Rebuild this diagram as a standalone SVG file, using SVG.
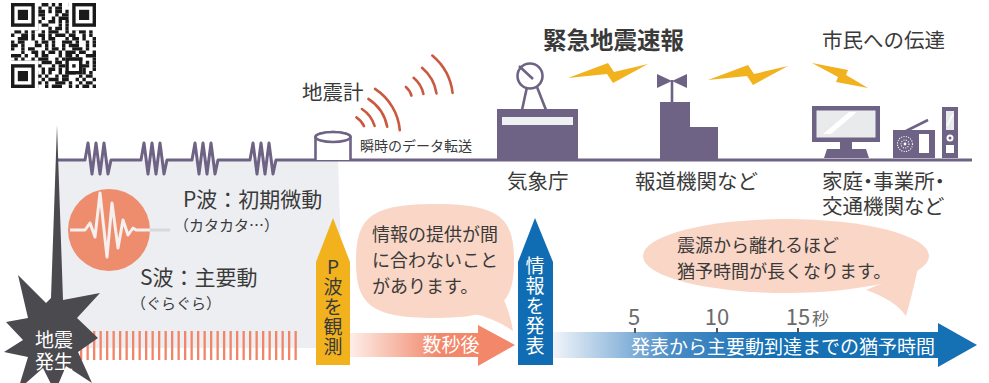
<svg xmlns="http://www.w3.org/2000/svg" width="989" height="383" viewBox="0 0 989 383">
<defs>
<style>
text{font-family:"Noto Sans CJK JP","Noto Sans CJK SC",sans-serif;fill:#3a3a3a}
.lbl{font-size:20.5px}
.sm{font-size:15px}
.bb{font-size:18px}
.w{fill:#fff}
.pu{fill:#6e6384}
.pst{fill:none;stroke:#6e6384;stroke-width:2.6}
.ln{fill:none;stroke:#6e6384;stroke-width:3;stroke-linejoin:round}
.arc{fill:none;stroke:#c9593f;stroke-width:2.6;stroke-linecap:round}
.bolt{fill:#f1b21d}
.vt{font-size:19px;writing-mode:vertical-rl;text-orientation:upright;letter-spacing:1px}
.num{font-size:22px;text-anchor:middle;fill:#6b6b6b}
.qr line{stroke:#1a1a1a;stroke-width:3.4}
.qa{stroke-dasharray:3.4 3.4 6.8 3.4 3.4 10.2 6.8 3.4 3.4}
.qb{stroke-dasharray:6.8 3.4 3.4 6.8 10.2 3.4 3.4}
.qc{stroke-dasharray:3.4 6.8 3.4 3.4 3.4 10.2 3.4 6.8 6.8 3.4 3.4}
.qd{stroke-dasharray:10.2 3.4 3.4 6.8 3.4 3.4 6.8}
.bub{fill:#fad6c6}
.palt{font-feature-settings:"palt"}
</style>
<linearGradient id="gRed" gradientUnits="userSpaceOnUse" x1="350" y1="0" x2="440" y2="0">
<stop offset="0" stop-color="#fdeee8"/><stop offset="1" stop-color="#f2876a"/>
</linearGradient>
<linearGradient id="gBlue" gradientUnits="userSpaceOnUse" x1="553" y1="0" x2="770" y2="0">
<stop offset="0" stop-color="#f1f5fa"/><stop offset="0.55" stop-color="#4a8cc6"/><stop offset="1" stop-color="#1670b4"/>
</linearGradient>
<g id="fp">
<rect x="-3.4" y="-3.4" width="30.6" height="30.6" fill="#fff"/>
<rect width="23.8" height="23.8" fill="#1a1a1a"/>
<rect x="3.4" y="3.4" width="17" height="17" fill="#fff"/>
<rect x="6.8" y="6.8" width="10.2" height="10.2" fill="#1a1a1a"/>
</g>
<path id="bolt" d="M0,0 L40,-15 L46,-6 L80,-14 L45,5 L39,-4 Z"/>
</defs>

<rect width="989" height="383" fill="#fff"/>

<!-- QR code -->
<g id="qr" class="qr">
<line class="qa" x1="11" x2="96" y1="4.7" y2="4.7"/>
<line class="qb" x1="11" x2="96" y1="8.1" y2="8.1" stroke-dashoffset="6.8"/>
<line class="qc" x1="11" x2="96" y1="11.5" y2="11.5" stroke-dashoffset="13.6"/>
<line class="qd" x1="11" x2="96" y1="14.9" y2="14.9" stroke-dashoffset="3.4"/>
<line class="qa" x1="11" x2="96" y1="18.3" y2="18.3" stroke-dashoffset="17"/>
<line class="qc" x1="11" x2="96" y1="21.7" y2="21.7" stroke-dashoffset="3.4"/>
<line class="qb" x1="11" x2="96" y1="25.1" y2="25.1" stroke-dashoffset="20.4"/>
<line class="qd" x1="11" x2="96" y1="28.5" y2="28.5" stroke-dashoffset="10.2"/>
<line class="qa" x1="11" x2="96" y1="31.9" y2="31.9" stroke-dashoffset="27.2"/>
<line class="qc" x1="11" x2="96" y1="35.3" y2="35.3" stroke-dashoffset="30.6"/>
<line class="qb" x1="11" x2="96" y1="38.7" y2="38.7" stroke-dashoffset="13.6"/>
<line class="qd" x1="11" x2="96" y1="42.1" y2="42.1" stroke-dashoffset="23.8"/>
<line class="qa" x1="11" x2="96" y1="45.5" y2="45.5" stroke-dashoffset="6.8"/>
<line class="qb" x1="11" x2="96" y1="48.9" y2="48.9" stroke-dashoffset="34"/>
<line class="qc" x1="11" x2="96" y1="52.3" y2="52.3" stroke-dashoffset="20.4"/>
<line class="qd" x1="11" x2="96" y1="55.7" y2="55.7"/>
<line class="qa" x1="11" x2="96" y1="59.1" y2="59.1" stroke-dashoffset="37.4"/>
<line class="qc" x1="11" x2="96" y1="62.5" y2="62.5" stroke-dashoffset="44.2"/>
<line class="qb" x1="11" x2="96" y1="65.9" y2="65.9" stroke-dashoffset="27.2"/>
<line class="qd" x1="11" x2="96" y1="69.3" y2="69.3" stroke-dashoffset="17"/>
<line class="qa" x1="11" x2="96" y1="72.7" y2="72.7" stroke-dashoffset="10.2"/>
<line class="qb" x1="11" x2="96" y1="76.1" y2="76.1"/>
<line class="qc" x1="11" x2="96" y1="79.5" y2="79.5" stroke-dashoffset="37.4"/>
<line class="qd" x1="11" x2="96" y1="82.9" y2="82.9" stroke-dashoffset="30.6"/>
<line class="qa" x1="11" x2="96" y1="86.3" y2="86.3" stroke-dashoffset="23.8"/>
<use href="#fp" x="11" y="3"/>
<use href="#fp" x="72.2" y="3"/>
<use href="#fp" x="11" y="64.2"/>
<rect x="65.4" y="57.4" width="17" height="17" fill="#1a1a1a"/>
<rect x="68.8" y="60.8" width="10.2" height="10.2" fill="#fff"/>
<rect x="72.2" y="64.2" width="3.4" height="3.4" fill="#1a1a1a"/>
</g>

<!-- P-wave / S-wave zone -->
<polygon id="zone" points="58,160 338,160 344,348 58,348" fill="#eceef1"/>

<!-- ground line with tremor marks -->
<path id="ground" class="ln" d="M58,160 H85 l3,-17 l4,31 l4,-31 l4,31 l4,-31 l4,31 l3,-14 H141 l3,-17 l4,31 l4,-31 l4,31 l4,-31 l4,31 l3,-14 H192 l3,-17 l4,31 l4,-31 l4,31 l4,-31 l4,31 l3,-14 H250 l3,-17 l4,31 l4,-31 l4,31 l4,-31 l4,31 l3,-14 H972"/>

<!-- shaking stripes -->
<line x1="80" y1="345.5" x2="298" y2="345.5" stroke="#f28467" stroke-width="29" stroke-dasharray="2.3 4.2"/>

<!-- epicentre burst -->
<g id="quake">
<polygon points="57,125 63,300 100,293 77,318 98,338 78,352 92,383 66,366 55,392 43,368 18,390 28,357 4,352 23,340 6,322 28,318 18,275 46,303 51,298" fill="#4a4a4f"/>
<text class="w" style="font-size:19px" text-anchor="middle"><tspan x="54" y="347">地震</tspan><tspan x="54" y="369">発生</tspan></text>
</g>

<!-- seismograph badge -->
<g id="waves">
<line x1="140" y1="230" x2="170" y2="230" stroke="#d7d8dc" stroke-width="3"/>
<circle cx="109" cy="230" r="41" fill="#ee8c6e"/>
<path d="M70,230 H85 L90,223 L95,237 L100,193 L107,257 L112,203 L118,248 L123,220 L128,235 L133,228 L136,230 H150" fill="none" stroke="#f5efed" stroke-width="3" stroke-linejoin="round"/>
<text x="183" y="206.5" style="font-size:21px">P波：初期微動</text>
<text class="sm" x="174" y="231">（カタカタ…）</text>
<text x="140" y="284.5" style="font-size:21px">S波：主要動</text>
<text class="sm" x="131" y="308.5">（ぐらぐら）</text>
</g>

<!-- seismometer -->
<g id="seismometer">
<path d="M315.5,160 V137 A17.5,5 0 0 1 350.5,137 V160" fill="#fff" stroke="#6e6384" stroke-width="2.6"/>
<ellipse cx="333" cy="137" rx="17.5" ry="5" fill="#fff" stroke="#6e6384" stroke-width="2.6"/>
<text class="lbl" x="302" y="100">地震計</text>
<text x="360" y="151" style="font-size:14px">瞬時のデータ転送</text>
<path class="arc" d="M356.4,117.4 A21,21 0 0 1 364,126.1 M361.9,109 A31,31 0 0 1 374.6,125.9 M368.4,98.9 A43,43 0 0 1 387.2,126.8 M375,88.9 A55,55 0 0 1 399.8,130.2"/>
<path class="arc" d="M405.9,87 A17,17 0 0 1 411.4,95.6 M413.6,77.8 A29,29 0 0 1 423.4,94 M422,67.8 A42,42 0 0 1 436.5,93.4 M432.3,55.6 A58,58 0 0 1 452.6,92.9"/>
</g>

<!-- weather agency -->
<g id="jma">
<line x1="527" y1="87" x2="522" y2="110" class="pst" stroke-width="3"/>
<line x1="537" y1="87" x2="546" y2="110" class="pst" stroke-width="3"/>
<circle cx="530" cy="76" r="12.5" fill="#fff" class="pst"/>
<line x1="519" y1="66" x2="533" y2="79" class="pst"/>
<rect x="497" y="109" width="81" height="51" class="pu"/>
<rect x="502" y="117" width="71" height="8" fill="#eef0f2"/>
<text class="lbl" x="507" y="189">気象庁</text>
</g>

<!-- broadcasters -->
<g id="media">
<line x1="672" y1="80" x2="672" y2="103" class="pst" stroke-width="3"/>
<polygon points="657,74 672,81 687,74 687,88 672,81 657,88" class="pu"/>
<path d="M660,102 H690 V127 H718 V160 H660 Z" class="pu"/>
<text class="lbl" x="635" y="189">報道機関など</text>
</g>

<!-- homes and offices -->
<g id="public">
<rect x="812" y="106" width="68" height="36" class="pu"/>
<rect x="816.5" y="110.5" width="59" height="27" fill="#e9eaec"/>
<polygon points="823,134 849,112 857,112 831,134" fill="#fff"/>
<path d="M840,141 H852 V149 H866 L869,158 H824 L827,149 H840 Z" class="pu"/>
<line x1="906" y1="131" x2="928" y2="120" class="pst"/>
<rect x="893" y="130" width="42" height="28" class="pu"/>
<circle cx="905" cy="144" r="7.5" fill="none" stroke="#fff" stroke-width="1.2" stroke-dasharray="1 1.4"/>
<circle cx="905" cy="144" r="4" fill="none" stroke="#fff" stroke-width="1.2" stroke-dasharray="1 1.4"/>
<circle cx="905" cy="144" r="1.4" fill="#fff"/>
<rect x="919" y="134" width="10" height="19" fill="#fff"/>
<rect x="942" y="107" width="16" height="51" class="pu"/>
<rect x="946" y="111" width="8" height="19" fill="#e9eaec"/>
<line x1="947" y1="126" x2="953" y2="114" stroke="#fff" stroke-width="1.5"/>
<circle cx="950" cy="138" r="3.5" fill="#fff"/>
<circle cx="950" cy="138" r="1.5" class="pu"/>
<rect x="946" y="145" width="8" height="8" fill="#fff"/>
<text class="lbl" x="822" y="48">市民への伝達</text>
<text class="lbl palt"><tspan x="822" y="189">家庭・事業所・</tspan><tspan x="822" y="214">交通機関など</tspan></text>
</g>

<!-- broadcast signals -->
<g id="signals">
<text x="543" y="49" style="font-size:23.5px;font-weight:700">緊急地震速報</text>
<use href="#bolt" class="bolt" x="568" y="78"/>
<use href="#bolt" class="bolt" x="708" y="80"/>
<path class="bolt" d="M812,63 L848,70 L846,75 L868,88 L836,82 L838,77 Z"/>
</g>

<!-- speech bubbles -->
<g id="note1">
<path class="bub" d="M435,204 C500,204 514,218 514,261 C514,304 500,318 435,318 C370,318 356,304 356,261 C356,218 370,204 435,204 Z"/>
<path class="bub" d="M497,285 Q510,310 513,331 Q495,318 470,313 Z"/>
<text class="bb"><tspan x="372" y="240.5">情報の提供が間</tspan><tspan x="372" y="266.7">に合わないこと</tspan><tspan x="372" y="292.9">があります。</tspan></text>
</g>
<g id="note2">
<ellipse class="bub" cx="786" cy="256" rx="143" ry="37"/>
<path class="bub" d="M918,268 Q912,295 906,316 Q895,300 866,290 Z"/>
<text class="bb"><tspan x="677" y="251.5">震源から離れるほど</tspan><tspan x="677" y="277.7">猶予時間が長くなります。</tspan></text>
</g>

<!-- timeline arrows -->
<g id="arrows">
<polygon points="350,333 478,333 478,325 515,345 478,366 478,357 350,357" fill="url(#gRed)"/>
<text class="w" x="451" y="352" style="font-size:19px" text-anchor="middle">数秒後</text>

<polygon points="553,332 938,332 938,323 977,345 938,367 938,358 553,358" fill="url(#gBlue)"/>
<text class="w" x="631" y="354" style="font-size:19px">発表から主要動到達までの猶予時間</text>

<polygon points="333,218 350,262 350,365 316,365 316,262" fill="#f1b21d"/>
<text class="vt" x="333" y="257">P波を観測</text>

<polygon points="535,218 553,262 553,365 518,365 518,262" fill="#116db3"/>
<text class="vt w" x="535" y="256">情報を発表</text>
</g>

<!-- time scale -->
<g id="scale">
<text class="num" x="634" y="325">5</text>
<text class="num" x="717" y="325">10</text>
<text class="num" x="798" y="325">15</text>
<text x="812" y="325" style="font-size:17px;fill:#6b6b6b">秒</text>
<path d="M635,328 v5 M717,328 v5 M798,328 v5" stroke="#555" stroke-width="2"/>
</g>
</svg>
